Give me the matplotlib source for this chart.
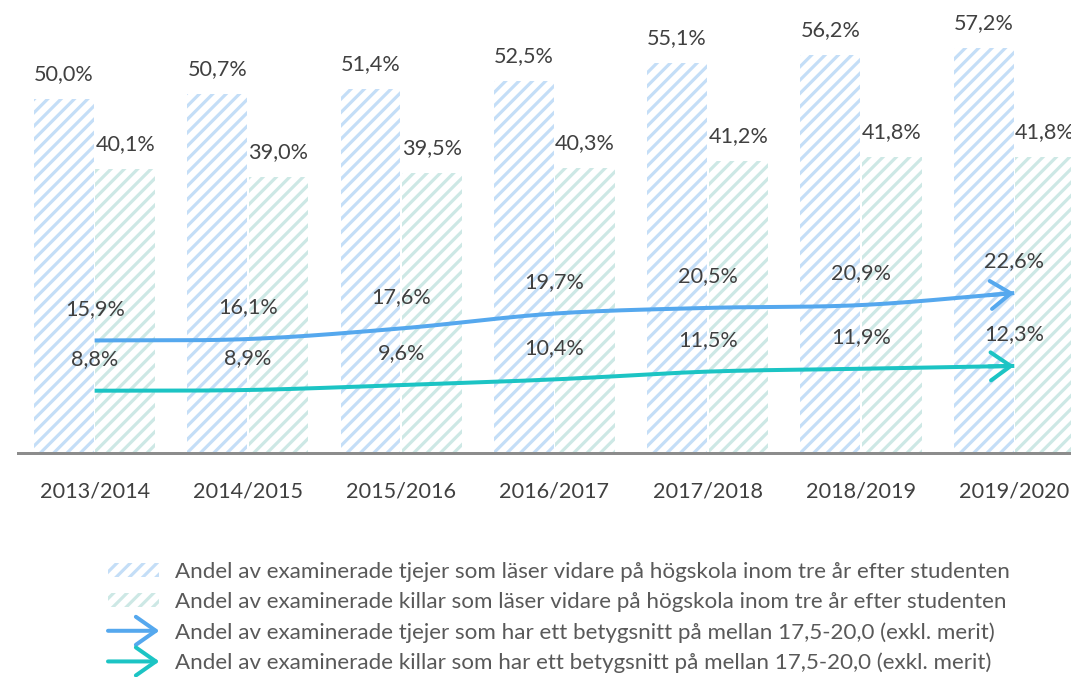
import numpy as np
import matplotlib
matplotlib.use('Agg')
import matplotlib.pyplot as plt
from matplotlib.patches import Patch, FancyArrowPatch
from matplotlib.lines import Line2D

# data
years = ['2013/2014', '2014/2015', '2015/2016', '2016/2017', '2017/2018', '2018/2019', '2019/2020']
tjejer_hogskola = [50.0, 50.7, 51.4, 52.5, 55.1, 56.2, 57.2]
killar_hogskola = [40.1, 39.0, 39.5, 40.3, 41.2, 41.8, 41.8]
tjejer_betyg = [15.9, 16.1, 17.6, 19.7, 20.5, 20.9, 22.6]
killar_betyg = [8.8, 8.9, 9.6, 10.4, 11.5, 11.9, 12.3]

legend_labels = [
    'Andel av examinerade tjejer som läser vidare på högskola inom tre år efter studenten',
    'Andel av examinerade killar som läser vidare på högskola inom tre år efter studenten',
    'Andel av examinerade tjejer som har ett betygsnitt på mellan 17,5-20,0 (exkl. merit)',
    'Andel av examinerade killar som har ett betygsnitt på mellan 17,5-20,0 (exkl. merit)',
]

c_girls_bar = '#c4def7'
c_boys_bar = '#cde8e5'
c_girls_line = '#55a8ee'
c_boys_line = '#1cc4c4'
c_text = '#404040'

plt.rcParams['font.family'] = ['Lato', 'DejaVu Sans']
plt.rcParams['hatch.linewidth'] = 1.9

DPI = 120
fig = plt.figure(figsize=(1071 / DPI, 677 / DPI), dpi=DPI)
ax = fig.add_axes([18 / 1071, 1 - 453 / 677, 1 - 18 / 1071, 453 / 677])

FS = 13


def fmt(v):
    return f'{v:.1f}%'.replace('.', ',')


x = np.arange(len(years))
w = 0.39
ax.bar(x - 0.2, tjejer_hogskola, w, color='white', edgecolor=c_girls_bar, hatch='///', linewidth=0)
ax.bar(x + 0.2, killar_hogskola, w, color='white', edgecolor=c_boys_bar, hatch='///', linewidth=0)

for xi, v in zip(x, tjejer_hogskola):
    ax.annotate(fmt(v), (xi - 0.2, v), xytext=(0, 15), textcoords='offset points',
                ha='center', va='center', fontsize=FS, color=c_text)
for xi, v in zip(x, killar_hogskola):
    ax.annotate(fmt(v), (xi + 0.2, v), xytext=(0, 15), textcoords='offset points',
                ha='center', va='center', fontsize=FS, color=c_text)


def smooth(xs, ys, n=30):
    # catmull-rom style smoothing like Excel's smoothed line
    xs = np.asarray(xs, float)
    ys = np.asarray(ys, float)
    px = np.concatenate([[2 * xs[0] - xs[1]], xs, [2 * xs[-1] - xs[-2]]])
    py = np.concatenate([[2 * ys[0] - ys[1]], ys, [2 * ys[-1] - ys[-2]]])
    ox, oy = [], []
    for i in range(1, len(px) - 2):
        t = np.linspace(0, 1, n, endpoint=False)
        for arr, out in ((px, ox), (py, oy)):
            p0, p1, p2, p3 = arr[i - 1], arr[i], arr[i + 1], arr[i + 2]
            out.extend(0.5 * (2 * p1 + (-p0 + p2) * t + (2 * p0 - 5 * p1 + 4 * p2 - p3) * t ** 2
                              + (-p0 + 3 * p1 - 3 * p2 + p3) * t ** 3))
    ox.append(xs[-1])
    oy.append(ys[-1])
    return np.array(ox), np.array(oy)


for vals, col in ((tjejer_betyg, c_girls_line), (killar_betyg, c_boys_line)):
    sx, sy = smooth(x, vals)
    ax.plot(sx, sy, color=col, lw=2.4, solid_capstyle='butt', zorder=3)
    ax.annotate('', xy=(sx[-1], sy[-1]), xytext=(sx[-6], sy[-6]),
                arrowprops=dict(arrowstyle='->,head_length=1.0,head_width=0.7', color=col,
                                lw=2.4, mutation_scale=12, shrinkA=0, shrinkB=0), zorder=4)
    for xi, v in zip(x, vals):
        ax.annotate(fmt(v), (xi, v), xytext=(0, 19), textcoords='offset points',
                    ha='center', va='center', fontsize=FS, color=c_text)

ax.set_xlim(-0.5, 6.37)
ax.set_ylim(0, 64)
ax.set_yticks([])
ax.set_xticks(x)
ax.set_xticklabels(years, fontsize=FS, color=c_text)
ax.tick_params(axis='x', length=0, pad=17)
for s in ('top', 'right', 'left'):
    ax.spines[s].set_visible(False)
ax.spines['bottom'].set_color('#8c8c8c')
ax.spines['bottom'].set_linewidth(1.8)
ax.set_facecolor('none')


class ArrowHandler:
    def __init__(self, color):
        self.color = color

    def legend_artist(self, legend, orig_handle, fontsize, handlebox):
        x0, y0 = -handlebox.xdescent, -handlebox.ydescent
        wd, ht = handlebox.width, handlebox.height
        a = FancyArrowPatch((x0, y0 + ht / 2), (x0 + wd, y0 + ht / 2),
                            arrowstyle='->,head_length=1.0,head_width=0.7', color=self.color,
                            lw=2.4, mutation_scale=12, shrinkA=0, shrinkB=0,
                            transform=handlebox.get_transform())
        handlebox.add_artist(a)
        return a


h1 = Patch(facecolor='white', edgecolor=c_girls_bar, hatch='///', linewidth=0)
h2 = Patch(facecolor='white', edgecolor=c_boys_bar, hatch='///', linewidth=0)
h3 = Line2D([], [], color=c_girls_line)
h4 = Line2D([], [], color=c_boys_line)
leg = fig.legend([h1, h2, h3, h4], legend_labels, loc='upper left',
                 bbox_to_anchor=(108 / 1071, 1 - 562 / 677), frameon=False,
                 fontsize=13.4, handlelength=2.3, handleheight=0.55, handletextpad=0.7,
                 labelspacing=0.45, borderpad=0, borderaxespad=0,
                 handler_map={h3: ArrowHandler(c_girls_line), h4: ArrowHandler(c_boys_line)})
for t in leg.get_texts():
    t.set_color('#595959')

fig.savefig('out.png', dpi=DPI)
